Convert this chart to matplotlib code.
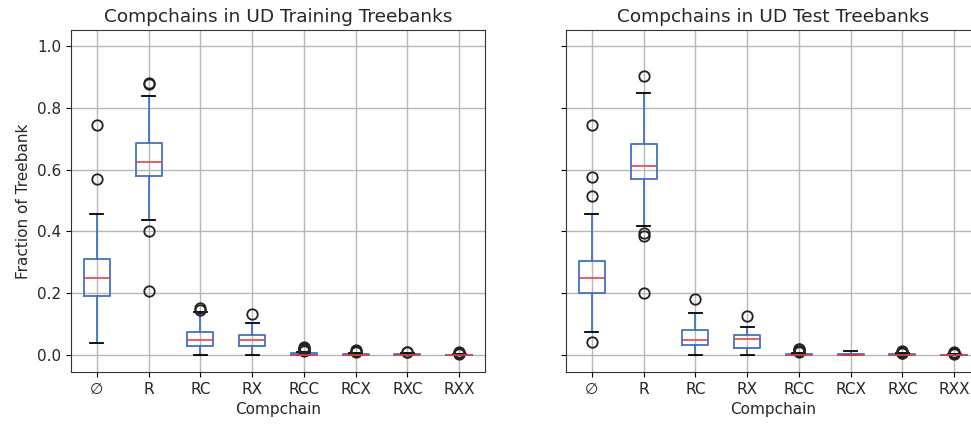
import matplotlib
matplotlib.use("Agg")
import matplotlib.pyplot as plt

# Compchain categories
cats = ["\u2205", "R", "RC", "RX", "RCC", "RCX", "RXC", "RXX"]

# Training treebanks: box statistics
train_med = [0.248, 0.626, 0.049, 0.049, 0.001, 0.001, 0.001, 0.000]
train_q1 = [0.192, 0.581, 0.029, 0.029, 0.000, 0.000, 0.000, 0.000]
train_q3 = [0.310, 0.687, 0.074, 0.065, 0.005, 0.004, 0.004, 0.001]
train_lo = [0.038, 0.438, 0.000, 0.000, 0.000, 0.000, 0.000, 0.000]
train_hi = [0.457, 0.837, 0.140, 0.105, 0.010, 0.008, 0.007, 0.002]
train_fliers = [
    [0.744, 0.571],
    [0.881, 0.876, 0.401, 0.207],
    [0.151, 0.147],
    [0.132],
    [0.012, 0.015, 0.018, 0.022, 0.027],
    [0.011, 0.013, 0.015],
    [0.009, 0.011],
    [0.003, 0.005, 0.007, 0.010],
]

# Test treebanks
test_med = [0.248, 0.612, 0.049, 0.051, 0.001, 0.001, 0.001, 0.000]
test_q1 = [0.202, 0.571, 0.032, 0.023, 0.000, 0.000, 0.000, 0.000]
test_q3 = [0.304, 0.683, 0.080, 0.065, 0.004, 0.004, 0.004, 0.001]
test_lo = [0.074, 0.417, 0.000, 0.000, 0.000, 0.000, 0.000, 0.000]
test_hi = [0.457, 0.848, 0.135, 0.090, 0.008, 0.013, 0.006, 0.002]
test_fliers = [
    [0.744, 0.577, 0.515, 0.043],
    [0.903, 0.394, 0.385, 0.202],
    [0.181],
    [0.125],
    [0.010, 0.014, 0.018, 0.020],
    [],
    [0.005, 0.008, 0.010, 0.012],
    [0.003, 0.006, 0.008, 0.010],
]

box_col = "#4472C4"
med_col = "#E0484A"
txt_col = "#262626"


def make_stats(med, q1, q3, lo, hi, fl):
    out = []
    for i in range(len(cats)):
        out.append(dict(med=med[i], q1=q1[i], q3=q3[i], whislo=lo[i],
                        whishi=hi[i], fliers=fl[i], label=cats[i]))
    return out


def draw(ax, stats, title):
    ax.bxp(stats, widths=0.5, patch_artist=False,
           boxprops=dict(color=box_col, linewidth=1.3),
           whiskerprops=dict(color=box_col, linewidth=1.3),
           capprops=dict(color="black", linewidth=1.3),
           medianprops=dict(color=med_col, linewidth=1.2),
           flierprops=dict(marker="o", markerfacecolor="none",
                           markeredgecolor="#222222", markersize=7.5,
                           markeredgewidth=1.3))
    ax.set_title(title, fontsize=13.3, color=txt_col)
    ax.set_xlabel("Compchain", fontsize=11, color=txt_col)
    ax.grid(True, color="#b8b8b8", linewidth=1.0)
    ax.set_axisbelow(True)
    ax.set_ylim(-0.055, 1.052)
    ax.set_xlim(0.5, 8.5)
    ax.tick_params(labelsize=11, labelcolor=txt_col)
    for s in ax.spines.values():
        s.set_color("#333333")


fig = plt.figure(figsize=(9.71, 4.25), dpi=100)
ax1 = fig.add_axes([71 / 971, 53 / 425, 414 / 971, 342 / 425])
ax2 = fig.add_axes([566 / 971, 53 / 425, 414 / 971, 342 / 425], sharey=ax1)

draw(ax1, make_stats(train_med, train_q1, train_q3, train_lo, train_hi, train_fliers),
     "Compchains in UD Training Treebanks")
draw(ax2, make_stats(test_med, test_q1, test_q3, test_lo, test_hi, test_fliers),
     "Compchains in UD Test Treebanks")

ax1.set_ylabel("Fraction of Treebank", fontsize=11, color=txt_col)
ax1.set_yticks([0.0, 0.2, 0.4, 0.6, 0.8, 1.0])
ax2.tick_params(labelleft=False)

fig.savefig("out.png", dpi=100)
